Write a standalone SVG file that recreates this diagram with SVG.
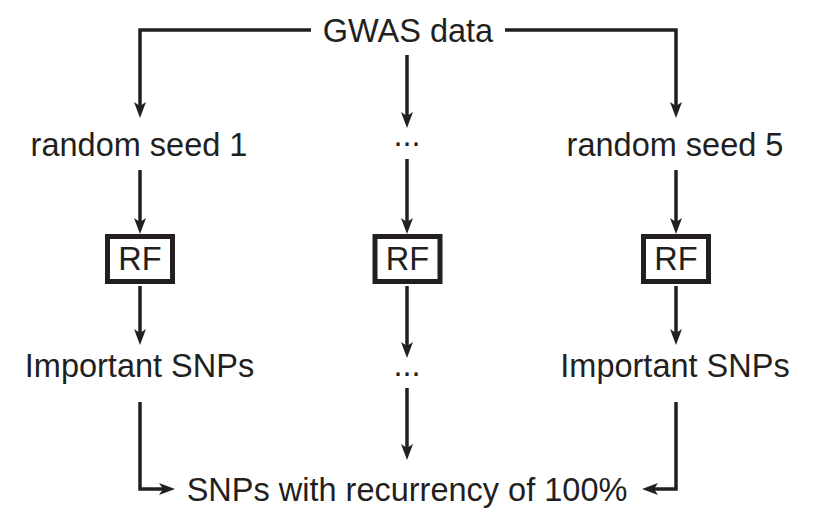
<svg xmlns="http://www.w3.org/2000/svg" width="815" height="528" viewBox="0 0 815 528">
<style>
.t{font-family:"Liberation Sans",Arial,Helvetica,sans-serif;font-size:32.5px;fill:#231f20;text-anchor:middle}
.c{fill:none;stroke:#231f20;stroke-width:3.5;marker-end:url(#ah)}
.box{fill:#fff;stroke:#231f20;stroke-width:5}
</style>
<defs>
<marker id="ah" markerUnits="userSpaceOnUse" viewBox="0 0 16 12" refX="8" refY="6" markerWidth="16" markerHeight="12" orient="auto">
<path d="M0,0 L16,6 L0,12 L4,6 Z" fill="#231f20"/>
</marker>
</defs>
<rect width="815" height="528" fill="#fff"/>
<g id="connectors">
<path class="c" d="M311,30 H140 V110"/>
<path class="c" d="M407,55 V120"/>
<path class="c" d="M505,30 H676 V110"/>
<path class="c" d="M140,170 V226"/>
<path class="c" d="M407,159 V226"/>
<path class="c" d="M676,170 V226"/>
<path class="c" d="M140,286 V337"/>
<path class="c" d="M407,286 V350"/>
<path class="c" d="M676,286 V337"/>
<path class="c" d="M407,388 V452"/>
<path class="c" d="M140,402 V489 H167"/>
<path class="c" d="M676,402 V489 H650"/>
</g>
<g id="gwas"><text class="t" x="408" y="42">GWAS data</text></g>
<g id="seed1"><text class="t" x="139" y="156">random seed 1</text></g>
<g id="seedmid"><text class="t" x="407" y="146">...</text></g>
<g id="seed5"><text class="t" x="675" y="156">random seed 5</text></g>
<g id="rf1"><rect class="box" x="107.5" y="236.5" width="65" height="45"/><text class="t" x="140" y="270">RF</text></g>
<g id="rf2"><rect class="box" x="375" y="236.5" width="65" height="45"/><text class="t" x="407.5" y="270">RF</text></g>
<g id="rf3"><rect class="box" x="643.5" y="236.5" width="65" height="45"/><text class="t" x="676" y="270">RF</text></g>
<g id="snp1"><text class="t" x="139.5" y="377">Important SNPs</text></g>
<g id="snpmid"><text class="t" x="407" y="376">...</text></g>
<g id="snp5"><text class="t" x="675" y="377">Important SNPs</text></g>
<g id="result"><text class="t" x="407" y="501">SNPs with recurrency of 100%</text></g>
</svg>
